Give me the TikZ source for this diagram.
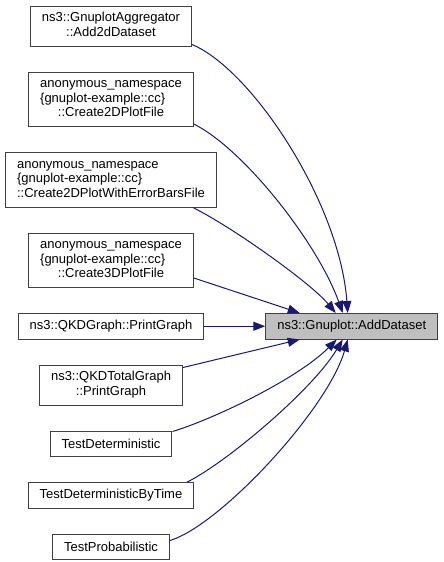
\documentclass[tikz,border=0pt]{standalone}
\usepackage{fontspec}
\setmainfont{Liberation Sans}
\usepackage{xcolor}
\usepackage{tikz}
\usetikzlibrary{arrows.meta,positioning}

\definecolor{edgeblue}{HTML}{191970}
\definecolor{focusgray}{HTML}{BFBFBF}
\definecolor{boxline}{HTML}{404040}

% multi-line labels: left lines, last line centred
\newcommand{\lbl}[1]{\begin{tabular}{@{}l@{}}#1\end{tabular}}
\newcommand{\lastline}[1]{\multicolumn{1}{@{}c@{}}{#1}}

\begin{document}
\begin{tikzpicture}[
    x=1pt, y=-1pt,
    node distance=25pt,
    box/.style={rectangle, draw=boxline, line width=1pt, fill=white, minimum height=25.5pt,
        inner xsep=11.5pt, inner ysep=5.5pt, align=center, font=\fontsize{13}{14.5}\selectfont},
    focus/.style={box, fill=focusgray},
    arrow/.style={-{Triangle[length=12pt,width=9pt]}, draw=edgeblue, line width=1pt}
]
\useasboundingbox (0,0) rectangle (444,562);

\node[box] (add2d) at (111,26) {\lbl{ns3::GnuplotAggregator\\\lastline{::Add2dDataset}}};
\node[box, below=of add2d] (plot2d) {\lbl{anonymous\_namespace\\\{gnuplot-example::cc\}\\\lastline{::Create2DPlotFile}}};
\node[box, below=of plot2d] (errbars) {\lbl{anonymous\_namespace\\\{gnuplot-example::cc\}\\\lastline{::Create2DPlotWithErrorBarsFile}}};
\node[box, below=of errbars] (plot3d) {\lbl{anonymous\_namespace\\\{gnuplot-example::cc\}\\\lastline{::Create3DPlotFile}}};
\node[box, below=of plot3d] (qkdgraph) {ns3::QKDGraph::PrintGraph};
\node[box, below=of qkdgraph] (qkdtotal) {\lbl{ns3::QKDTotalGraph\\\lastline{::PrintGraph}}};
\node[box, below=of qkdtotal] (testdet) {TestDeterministic};
\node[box, below=of testdet] (bytime) {TestDeterministicByTime};
\node[box, below=of bytime] (testprob) {TestProbabilistic};
\node[focus, right=61pt of qkdgraph] (adddata) {ns3::Gnuplot::AddDataset};

\draw[arrow] ([yshift=2pt]add2d.south east) .. controls +(60,25) and +(-8,-110) .. ([xshift=-4pt]adddata.north);
\draw[arrow] ([yshift=3pt]plot2d.south east) .. controls +(50,25) and +(-25,-70) .. ([xshift=-9pt]adddata.north);
\draw[arrow] ([xshift=-24pt]errbars.south east) .. controls +(40,20) and +(-25,-30) .. ([xshift=-16pt]adddata.north);
\draw[arrow] ([yshift=10pt]plot3d.south east) -- ([xshift=-52pt]adddata.north);
\draw[arrow] (qkdgraph) -- (adddata);
\draw[arrow] ([yshift=-3pt]qkdtotal.north east) -- ([xshift=-52pt]adddata.south);
\draw[arrow] ([yshift=-1pt]testdet.north east) .. controls +(40,-12) and +(-40,40) .. ([xshift=-15pt]adddata.south);
\draw[arrow] ([xshift=-7pt]bytime.north east) .. controls +(40,-20) and +(-30,50) .. ([xshift=-9pt]adddata.south);
\draw[arrow] ([yshift=-7pt]testprob.north east) .. controls +(50,-15) and +(-20,70) .. ([xshift=-4pt]adddata.south);
\end{tikzpicture}
\end{document}
